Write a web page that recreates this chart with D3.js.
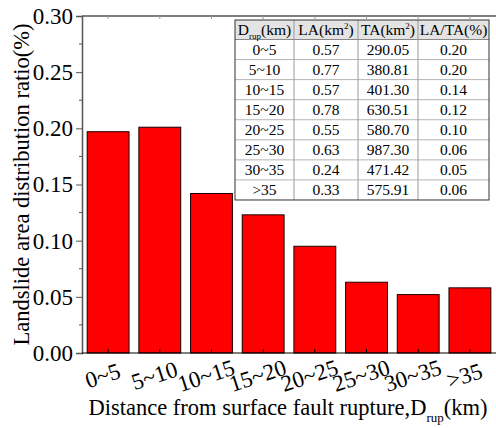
<!DOCTYPE html>
<html>
<head>
<meta charset="utf-8">
<script src="https://cdn.jsdelivr.net/npm/d3@7"></script>
<style>
  body { margin: 0; background: #fff; }
  svg text { font-family: "Liberation Serif", "Times New Roman", serif !important; }
</style>
</head>
<body>
<svg id="chart" width="496" height="428"></svg>
<script>
// data
const categories = ["0~5", "5~10", "10~15", "15~20", "20~25", "25~30", "30~35", ">35"];
const ratios = [0.197, 0.201, 0.142, 0.123, 0.095, 0.063, 0.052, 0.058];
const yTicks = [0.00, 0.05, 0.10, 0.15, 0.20, 0.25, 0.30];

// inset table
const laValues = ["0.57", "0.77", "0.57", "0.78", "0.55", "0.63", "0.24", "0.33"];
const taValues = ["290.05", "380.81", "401.30", "630.51", "580.70", "987.30", "471.42", "575.91"];
const laTaValues = ["0.20", "0.20", "0.14", "0.12", "0.10", "0.06", "0.05", "0.06"];

const svg = d3.select("#chart");
const pLeft = 82, pRight = 496, pTop = 16, pBottom = 353;

const x = d3.scaleBand()
    .domain(categories)
    .range([pLeft, pRight])
    .paddingInner(0.19)
    .paddingOuter(0.1);

const y = d3.scaleLinear()
    .domain([0, 0.30])
    .range([pBottom, pTop]);

// bars
svg.append("g")
    .selectAll("rect")
    .data(categories)
    .enter().append("rect")
    .attr("x", d => x(d))
    .attr("y", (d, i) => y(ratios[i]))
    .attr("width", x.bandwidth())
    .attr("height", (d, i) => pBottom - y(ratios[i]))
    .attr("fill", "#ff0000")
    .attr("stroke", "#1a0000")
    .attr("stroke-width", 1);

// top frame line
svg.append("line")
    .attr("x1", pLeft).attr("x2", pRight)
    .attr("y1", pTop).attr("y2", pTop)
    .attr("stroke", "#000").attr("stroke-width", 1.2);

// left axis
const yAxis = svg.append("g")
    .attr("transform", `translate(${pLeft},0)`)
    .call(d3.axisLeft(y).tickValues(yTicks).tickFormat(d3.format(".2f")).tickSize(6).tickPadding(3));
yAxis.attr("font-family", null);
yAxis.select(".domain").attr("stroke", "#555").attr("stroke-width", 1.5);
yAxis.selectAll(".tick line").attr("stroke", "#555");
yAxis.selectAll("text")
    .attr("font-size", 23)
    .attr("fill", "#000");

// minor y ticks
svg.append("g")
    .selectAll("line")
    .data(yTicks.slice(0, -1).map(v => v + 0.025))
    .enter().append("line")
    .attr("x1", pLeft - 3).attr("x2", pLeft)
    .attr("y1", d => y(d)).attr("y2", d => y(d))
    .attr("stroke", "#555");

// bottom axis
const xAxis = svg.append("g")
    .attr("transform", `translate(0,${pBottom})`)
    .call(d3.axisBottom(x).tickSize(0).tickPadding(0));
xAxis.attr("font-family", null);
xAxis.select(".domain").attr("d", `M${pLeft},0H${pRight}`).attr("stroke", "#000").attr("stroke-width", 1.2);
xAxis.selectAll("text")
    .attr("font-size", 23)
    .attr("fill", "#000")
    .attr("text-anchor", "middle")
    .attr("dy", 0)
    .attr("transform", "translate(-3,30) rotate(-18)");

// small inward ticks on bottom and top axes
svg.append("g")
    .selectAll("line")
    .data(categories)
    .enter().append("line")
    .attr("x1", d => x(d) + x.bandwidth() / 2)
    .attr("x2", d => x(d) + x.bandwidth() / 2)
    .attr("y1", pBottom).attr("y2", pBottom - 4)
    .attr("stroke", "#000");
svg.append("g")
    .selectAll("line")
    .data(categories)
    .enter().append("line")
    .attr("x1", d => x(d) + x.bandwidth() / 2)
    .attr("x2", d => x(d) + x.bandwidth() / 2)
    .attr("y1", pTop).attr("y2", pTop + 3)
    .attr("stroke", "#999");

// axis titles
svg.append("text")
    .attr("transform", `translate(29,${(pTop + pBottom) / 2}) rotate(-90)`)
    .attr("text-anchor", "middle")
    .attr("font-size", 22.5)
    .text("Landslide area distribution ratio(%)");

const xt = svg.append("text")
    .attr("x", 288)
    .attr("y", 415)
    .attr("text-anchor", "middle")
    .attr("font-size", 22.5);
xt.append("tspan").text("Distance from surface fault rupture,D");
xt.append("tspan").attr("font-size", 13).attr("dy", 7).text("rup");
xt.append("tspan").attr("dy", -7).text("(km)");

// table
const colX = [235, 294, 358, 418, 489];
const tTop = 20, headH = 19.5, rowH = 20.06;
const table = svg.append("g").attr("font-size", 15.5);

table.append("rect")
    .attr("x", colX[0]).attr("y", tTop)
    .attr("width", colX[4] - colX[0]).attr("height", headH)
    .attr("fill", "#e4e4e4");
table.append("rect")
    .attr("x", colX[0]).attr("y", tTop + headH)
    .attr("width", colX[4] - colX[0]).attr("height", rowH * categories.length)
    .attr("fill", "#fff");

// grid lines
for (let i = 1; i < categories.length; i++) {
    table.append("line")
        .attr("x1", colX[0]).attr("x2", colX[4])
        .attr("y1", tTop + headH + i * rowH).attr("y2", tTop + headH + i * rowH)
        .attr("stroke", "#b5b5b5");
}
table.append("line")
    .attr("x1", colX[0]).attr("x2", colX[4])
    .attr("y1", tTop + headH).attr("y2", tTop + headH)
    .attr("stroke", "#888");
for (let j = 1; j < 4; j++) {
    table.append("line")
        .attr("x1", colX[j]).attr("x2", colX[j])
        .attr("y1", tTop).attr("y2", tTop + headH + rowH * categories.length)
        .attr("stroke", "#999");
}
table.append("rect")
    .attr("x", colX[0]).attr("y", tTop)
    .attr("width", colX[4] - colX[0]).attr("height", headH + rowH * categories.length)
    .attr("fill", "none")
    .attr("stroke", "#333").attr("stroke-width", 1);

// header
const hy = tTop + headH - 4.5;
const cx = j => (colX[j] + colX[j + 1]) / 2;
let h = table.append("text").attr("x", cx(0)).attr("y", hy).attr("text-anchor", "middle");
h.append("tspan").text("D");
h.append("tspan").attr("font-size", 9).attr("dy", 4).text("rup");
h.append("tspan").attr("dy", -4).text("(km)");
["LA", "TA"].forEach((lab, k) => {
    const t = table.append("text").attr("x", cx(k + 1)).attr("y", hy).attr("text-anchor", "middle");
    t.append("tspan").text(lab + "(km");
    t.append("tspan").attr("font-size", 9).attr("dy", -6).text("2");
    t.append("tspan").attr("dy", 6).text(")");
});
table.append("text").attr("x", cx(3)).attr("y", hy).attr("text-anchor", "middle").text("LA/TA(%)");

// rows
const columns = [categories, laValues, taValues, laTaValues];
columns.forEach((col, j) => {
    table.append("g")
        .selectAll("text")
        .data(col)
        .enter().append("text")
        .attr("x", cx(j))
        .attr("y", (d, i) => tTop + headH + (i + 1) * rowH - 4.5)
        .attr("text-anchor", "middle")
        .text(d => d);
});
</script>
</body>
</html>
